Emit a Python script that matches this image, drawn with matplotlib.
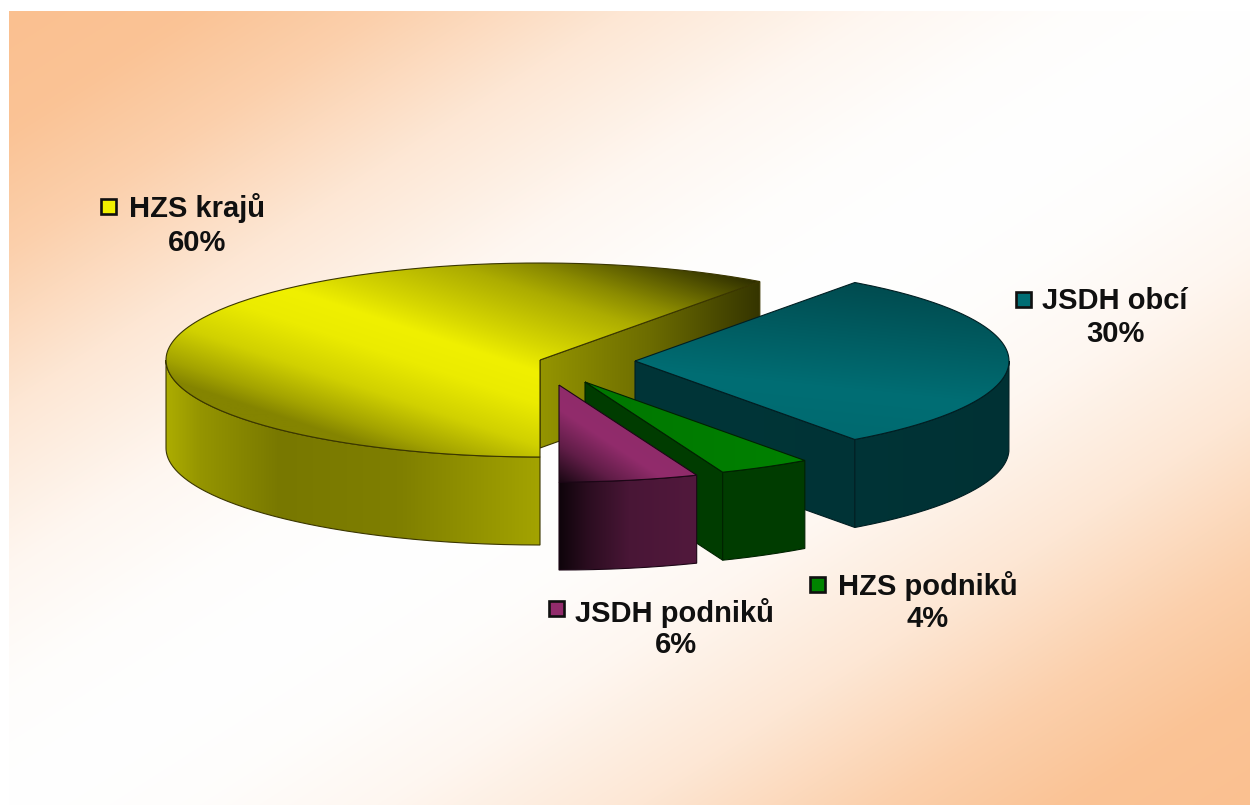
import matplotlib
matplotlib.use("Agg")
import matplotlib.pyplot as plt
import numpy as np
from matplotlib.patches import PathPatch, Rectangle
from matplotlib.path import Path

plt.rcParams['font.family'] = ['Liberation Sans', 'DejaVu Sans']

# data, clockwise from the first slice
categories = ["JSDH obcí", "HZS podniků", "JSDH podniků", "HZS krajů"]
shares = [30, 4, 6, 60]

# look of the pie
base_colors = [(0, 110, 116), (0, 132, 0), (146, 44, 108), (240, 240, 0)]
edge_colors = ["#001e22", "#002200", "#1c0616", "#3a3600"]
explode = [(95, 1), (45, 22), (19, 25), (0, 0)]
start_angle = 54
cx, cy = 540, 360
rx, ry = 374, 97
depth = 88

# shading: (normal x, normal y, anchor dx, anchor dy, distances, brightness)
top_shade = [
    (0.1, -0.99, 260, 35, [-60, 0, 110], [0.95, 1.0, 0.68]),
    (1, 0, 0, 0, [0, 220], [0.9, 0.98]),
    (-0.55, 0.83, 70, 70, [-60, 0, 30, 62], [0.95, 1.0, 0.66, 0.16]),
    (0.316, -0.949, -10, 20, [-114, -95, -60, -20, 10, 35, 85, 110, 165], [0.55, 0.68, 0.87, 0.98, 1.0, 0.9, 0.72, 0.58, 0.2]),
]
rim_shade = [
    (1, 0, 0, 0, [218, 374], [0.47, 0.45]),
    (1, 0, 0, 0, [130, 220], [0.46, 0.46]),
    (1, 0, 0, 0, [0, 30, 70, 137], [0.1, 0.3, 0.5, 0.56]),
    (1, 0, 0, 0, [-374, -340, -260, -140, 0], [0.72, 0.62, 0.5, 0.53, 0.68]),
]
cut_shade = [
    (1, 0, 0, 0, [0, 220], [0.48, 0.47]),
    (1, 0, 0, 0, [0, 140], [0.46, 0.46]),
    (1, 0, 0, 0, [0, 10], [0.2, 0.2]),
    (1, 0, 0, 0, [0, 110, 220], [0.62, 0.45, 0.22]),
]

# label layout: key square left/top, first line start, line centres
key_pos = [(1016, 292), (810, 577), (549, 601), (101, 199)]
name_pos = [(1042, 301), (838, 586), (575, 613), (129, 208)]
value_pos = [(1115, 334), (928, 619), (676, 645), (197, 243)]

W, H = 1250, 805
fig = plt.figure(figsize=(W / 100, H / 100), dpi=100)
ax = fig.add_axes([0, 0, 1, 1])
ax.set_xlim(0, W)
ax.set_ylim(H, 0)
ax.axis("off")


def shaded(poly, color, shade, apex, edge):
    """Fill a polygon with a linear brightness ramp, clipped to the outline"""
    poly = np.array(poly)
    x0, y0 = np.floor(poly.min(axis=0)) - 1
    x1, y1 = np.ceil(poly.max(axis=0)) + 1
    xx, yy = np.meshgrid(np.arange(x0, x1 + 1), np.arange(y0, y1 + 1))
    nx, ny, adx, ady, ds, fs = shade
    d = (xx - apex[0] - adx) * nx + (yy - apex[1] - ady) * ny
    f = np.interp(d, ds, fs)
    rgb = np.dstack([np.clip(f * c / 255, 0, 1) for c in color])
    im = ax.imshow(rgb, extent=(x0, x1, y1, y0), interpolation="bilinear", aspect="auto", zorder=zorder[0])
    patch = PathPatch(Path(poly, closed=False), fc="none", ec=edge, lw=0.8, zorder=zorder[0] + 0.5)
    ax.add_patch(patch)
    im.set_clip_path(patch)
    zorder[0] += 1


def arc(apex, a, b, drop=0):
    t = np.radians(np.linspace(a, b, 160))
    return np.column_stack([apex[0] + rx * np.cos(t), apex[1] - ry * np.sin(t) + drop])


# background, peach in two corners with a white diagonal
bx0, by0 = 9, 12
xx, yy = np.meshgrid(np.arange(bx0, W), np.arange(by0, H))
t = (xx - bx0) / (W - bx0) + (yy - by0) / (H - by0)
f = np.interp(np.minimum(t, 2 - t), [0, 0.15, 0.3, 0.5, 0.7, 0.85, 1], [1, 0.95, 0.75, 0.38, 0.13, 0.03, 0])[..., None]
peach = np.array([250, 192, 144]) / 255
ax.imshow(1 - f * (1 - peach), extent=(bx0, W, H, by0), aspect="auto", zorder=0)
ax.set_xlim(0, W)
ax.set_ylim(H, 0)

zorder = [1]
hi = start_angle
slices = []
for v, off in zip(shares, explode):
    lo = hi - 360 * v / 100
    slices.append((lo, hi, (cx + off[0], cy + off[1])))
    hi = lo

# yellow sits at the back, then teal, green, pink
for i in [3, 0, 1, 2]:
    lo, hi, apex = slices[i]
    col = base_colors[i]
    edge = edge_colors[i]

    # cut face on the clockwise side
    if np.sin(np.radians(lo - 90)) < -0.01:
        rim_pt = arc(apex, lo, lo, 0)[0]
        cut = [apex, rim_pt, rim_pt + [0, depth], np.array(apex) + [0, depth], apex]
        shaded(cut, col, cut_shade[i], apex, edge)

    # outer wall, only the part on the lower half of the ellipse
    a = max(lo, -180)
    b = min(hi, 0)
    if lo < -180:
        a, b = -180, hi
    if b > a:
        upper = arc(apex, a, b)
        lower = arc(apex, b, a, depth)
        shaded(np.vstack([upper, lower, upper[:1]]), col, rim_shade[i], apex, edge)

    # top face
    top = np.vstack([[apex], arc(apex, lo, hi), [apex]])
    shaded(top, col, top_shade[i], apex, edge)

# labels
for name, v, col, kp, np_, vp in zip(categories, shares, base_colors, key_pos, name_pos, value_pos):
    ax.add_patch(Rectangle(kp, 15, 15, fc=np.array(col) / 255, ec="#101010", lw=1.9, zorder=20))
    ax.text(np_[0], np_[1], name, fontsize=21, fontweight="bold", color="#101010",
            ha="left", va="center", zorder=20)
    ax.text(vp[0], vp[1], f"{v}%", fontsize=21, fontweight="bold", color="#101010",
            ha="center", va="center", zorder=20)

fig.savefig("out.png", dpi=100, facecolor="white")
